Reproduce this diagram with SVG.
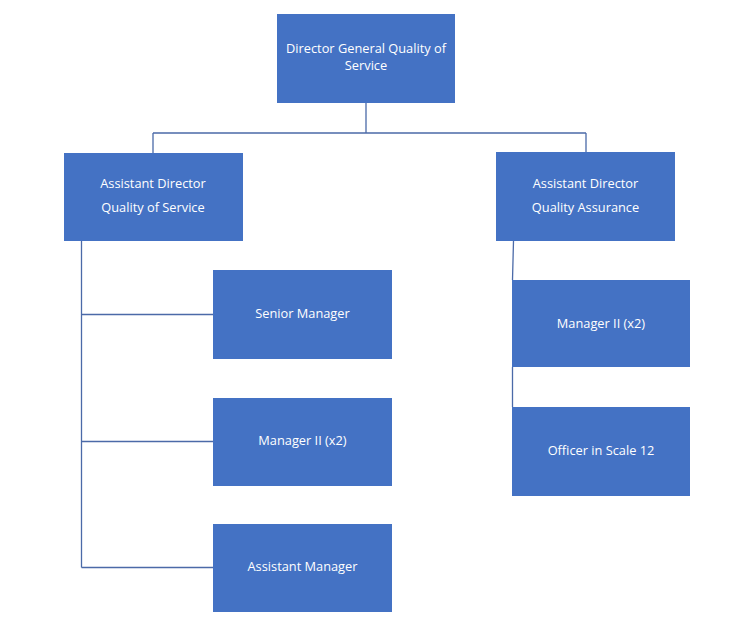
<svg xmlns="http://www.w3.org/2000/svg" width="745" height="628" viewBox="0 0 745 628">
<style>
.box{fill:#4472C4}
.t{font-family:"Open Sans","Noto Sans","Liberation Sans",sans-serif;font-size:12.8px;fill:#FFFFFF;text-anchor:middle}
.c{fill:none;stroke:#4B6AA8;stroke-width:1.3}
</style>
<rect width="745" height="628" fill="#FFFFFF"/>
<g id="connectors">
<path class="c" d="M366,103 V133 M153,133 H586 M153,133 V153 M586,133 V152"/>
<path class="c" d="M513.5,241 L512.5,280 M512.5,367 V407"/>
<path class="c" d="M81.5,241 V567.5 M81.5,314.5 H213 M81.5,441.5 H213 M81.5,567.5 H213"/>
</g>
<g id="dg"><rect class="box" x="277" y="14" width="178" height="89"/><text class="t" x="366" y="53"><tspan x="366">Director General Quality of</tspan><tspan x="366" dy="17">Service</tspan></text></g>
<g id="ad-qos"><rect class="box" x="64" y="153" width="179" height="88"/><text class="t" x="153" y="188">Assistant Director</text><text class="t" x="153" y="211.5">Quality of Service</text></g>
<g id="ad-qa"><rect class="box" x="496" y="152" width="179" height="89"/><text class="t" x="585.5" y="188">Assistant Director</text><text class="t" x="585.5" y="212">Quality Assurance</text></g>
<g id="senior-manager"><rect class="box" x="213" y="270" width="179" height="89"/><text class="t" x="302.5" y="318">Senior Manager</text></g>
<g id="manager-ii-left"><rect class="box" x="213" y="398" width="179" height="88"/><text class="t" x="302.5" y="445">Manager II (x2)</text></g>
<g id="assistant-manager"><rect class="box" x="213" y="524" width="179" height="88"/><text class="t" x="302.5" y="570.5">Assistant Manager</text></g>
<g id="manager-ii-right"><rect class="box" x="512" y="280" width="178" height="87"/><text class="t" x="601" y="328">Manager II (x2)</text></g>
<g id="officer"><rect class="box" x="512" y="407" width="178" height="89"/><text class="t" x="601" y="455">Officer in Scale 12</text></g>
</svg>
